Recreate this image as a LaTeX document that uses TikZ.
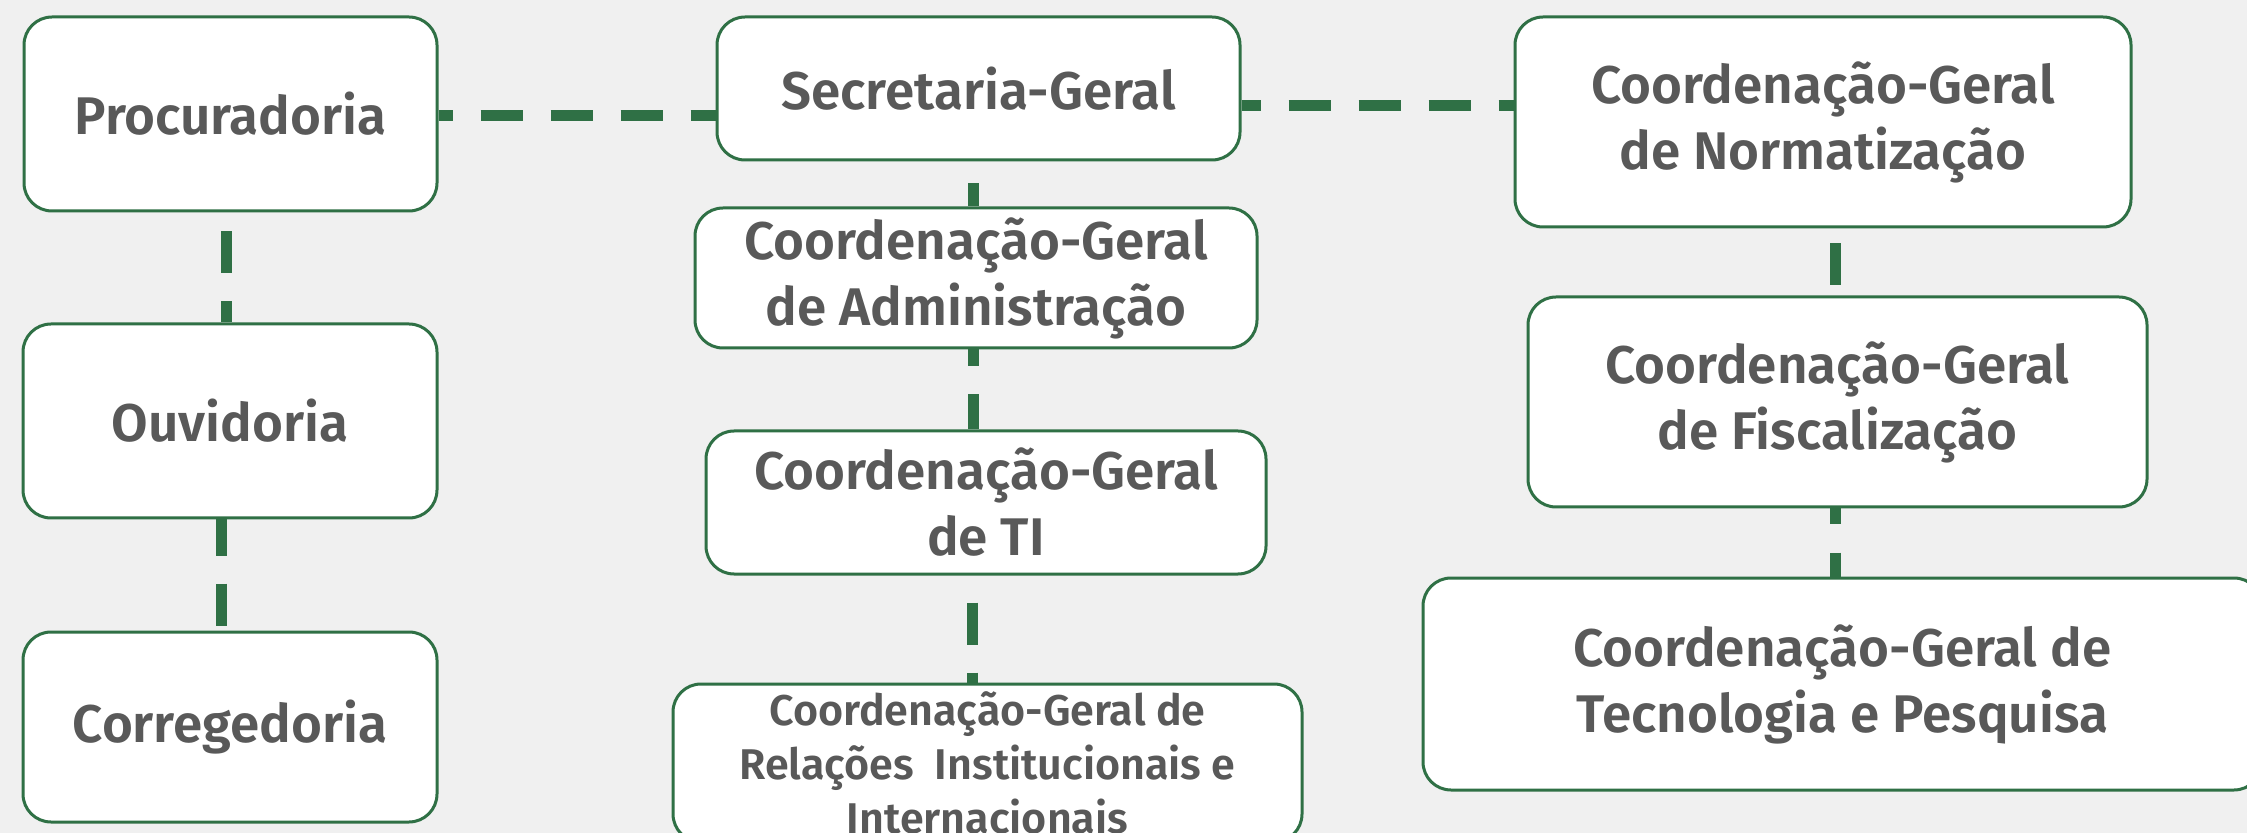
\documentclass[tikz,border=0pt]{standalone}
\usepackage{fontspec}
\setmainfont{Fira Sans}[BoldFont={Fira Sans SemiBold}]
\usetikzlibrary{calc}
\definecolor{bgc}{HTML}{F0F0F0}
\definecolor{grn}{HTML}{2F7045}
\definecolor{txt}{HTML}{595959}
\pgfdeclarelayer{bglayer}
\pgfdeclarelayer{lines}
\pgfsetlayers{bglayer,lines,main}
\tikzset{
  box/.style={draw=grn, line width=1.5pt, fill=white, rounded corners=14pt,
    inner sep=0pt, align=center, text=txt,
    font=\bfseries\fontsize{26.5pt}{33pt}\selectfont},
  smallbox/.style={box, font=\bfseries\fontsize{21.5pt}{27pt}\selectfont},
  conn/.style={draw=grn, line width=5.5pt, dash pattern=on 21pt off 14pt}
}
\begin{document}
\begin{tikzpicture}[x=0.5pt,y=-0.5pt]
\begin{pgfonlayer}{bglayer}
\fill[bgc] (0,0) rectangle (2247,833);
\end{pgfonlayer}
\useasboundingbox (0,0) rectangle (2247,833);
\clip (0,0) rectangle (2247,833);
% left column
\node[box, minimum width=206.5pt, minimum height=97pt] (Proc) at (230.5,114) {Procuradoria};
\node[box, minimum width=207pt, minimum height=97pt] (Ouv) at (230,421) {Ouvidoria};
\node[box, minimum width=207pt, minimum height=95pt] (Corr) at (230,727) {Corregedoria};
% middle column
\node[box, minimum width=261.5pt, minimum height=71.5pt] (Sec) at (978.5,88.5) {Secretaria-Geral};
\node[box, minimum width=281pt, minimum height=70pt] (Adm) at (976,278) {Coordenação-Geral\\de Administração};
\node[box, minimum width=280pt, minimum height=71.5pt] (TI) at (986,502.5) {Coordenação-Geral\\de TI};
\node[smallbox, minimum width=314.5pt, minimum height=79pt] (Rel) at (987.5,763) {Coordenação-Geral de\\Relações\ \ Institucionais e\\Internacionais};
% right column
\node[box, minimum width=308pt, minimum height=105pt] (Norm) at (1823,122) {Coordenação-Geral\\de Normatização};
\node[box, minimum width=309.5pt, minimum height=105pt] (Fisc) at (1837.5,402) {Coordenação-Geral\\de Fiscalização};
\node[box, minimum width=419.5pt, minimum height=106pt] (Tec) at (1842.5,684) {Coordenação-Geral de\\Tecnologia e Pesquisa};
% connectors
\coordinate (c1) at ($(Proc.east)+(0,1.5)$);
\coordinate (c2) at ($(Sec.east)+(0,17)$);
\coordinate (c3) at ($(Sec.south)+(-5.5,0)$);
\coordinate (c4) at ($(Adm.south)+(-3,0)$);
\coordinate (c5) at ($(TI.south)+(-14,0)$);
\coordinate (c6) at ($(Proc.south)+(-4.5,0)$);
\coordinate (c7) at ($(Ouv.south)+(-8.5,0)$);
\coordinate (c8) at ($(Norm.south)+(12,0)$);
\coordinate (c9) at ($(Fisc.south)+(-2.5,0)$);
\begin{pgfonlayer}{lines}
\draw[conn, dash phase=14pt] (c1) -- (c1 -| Sec.west);
\draw[conn, dash phase=11.5pt] (c2) -- (c2 -| Norm.west);
\draw[conn, dash phase=24pt] (c3) -- (c3 |- Adm.north);
\draw[conn, dash phase=12.5pt] (c4) -- (c4 |- TI.north);
\draw[conn, dash phase=21.5pt] (c5) -- (c5 |- Rel.north);
\draw[conn, dash phase=25.5pt] (c6) -- (c6 |- Ouv.north);
\draw[conn, dash phase=3pt] (c7) -- (c7 |- Corr.north);
\draw[conn, dash phase=27.5pt] (c8) -- (c8 |- Fisc.north);
\draw[conn, dash phase=13pt] (c9) -- (c9 |- Tec.north);
\end{pgfonlayer}
\end{tikzpicture}
\end{document}
